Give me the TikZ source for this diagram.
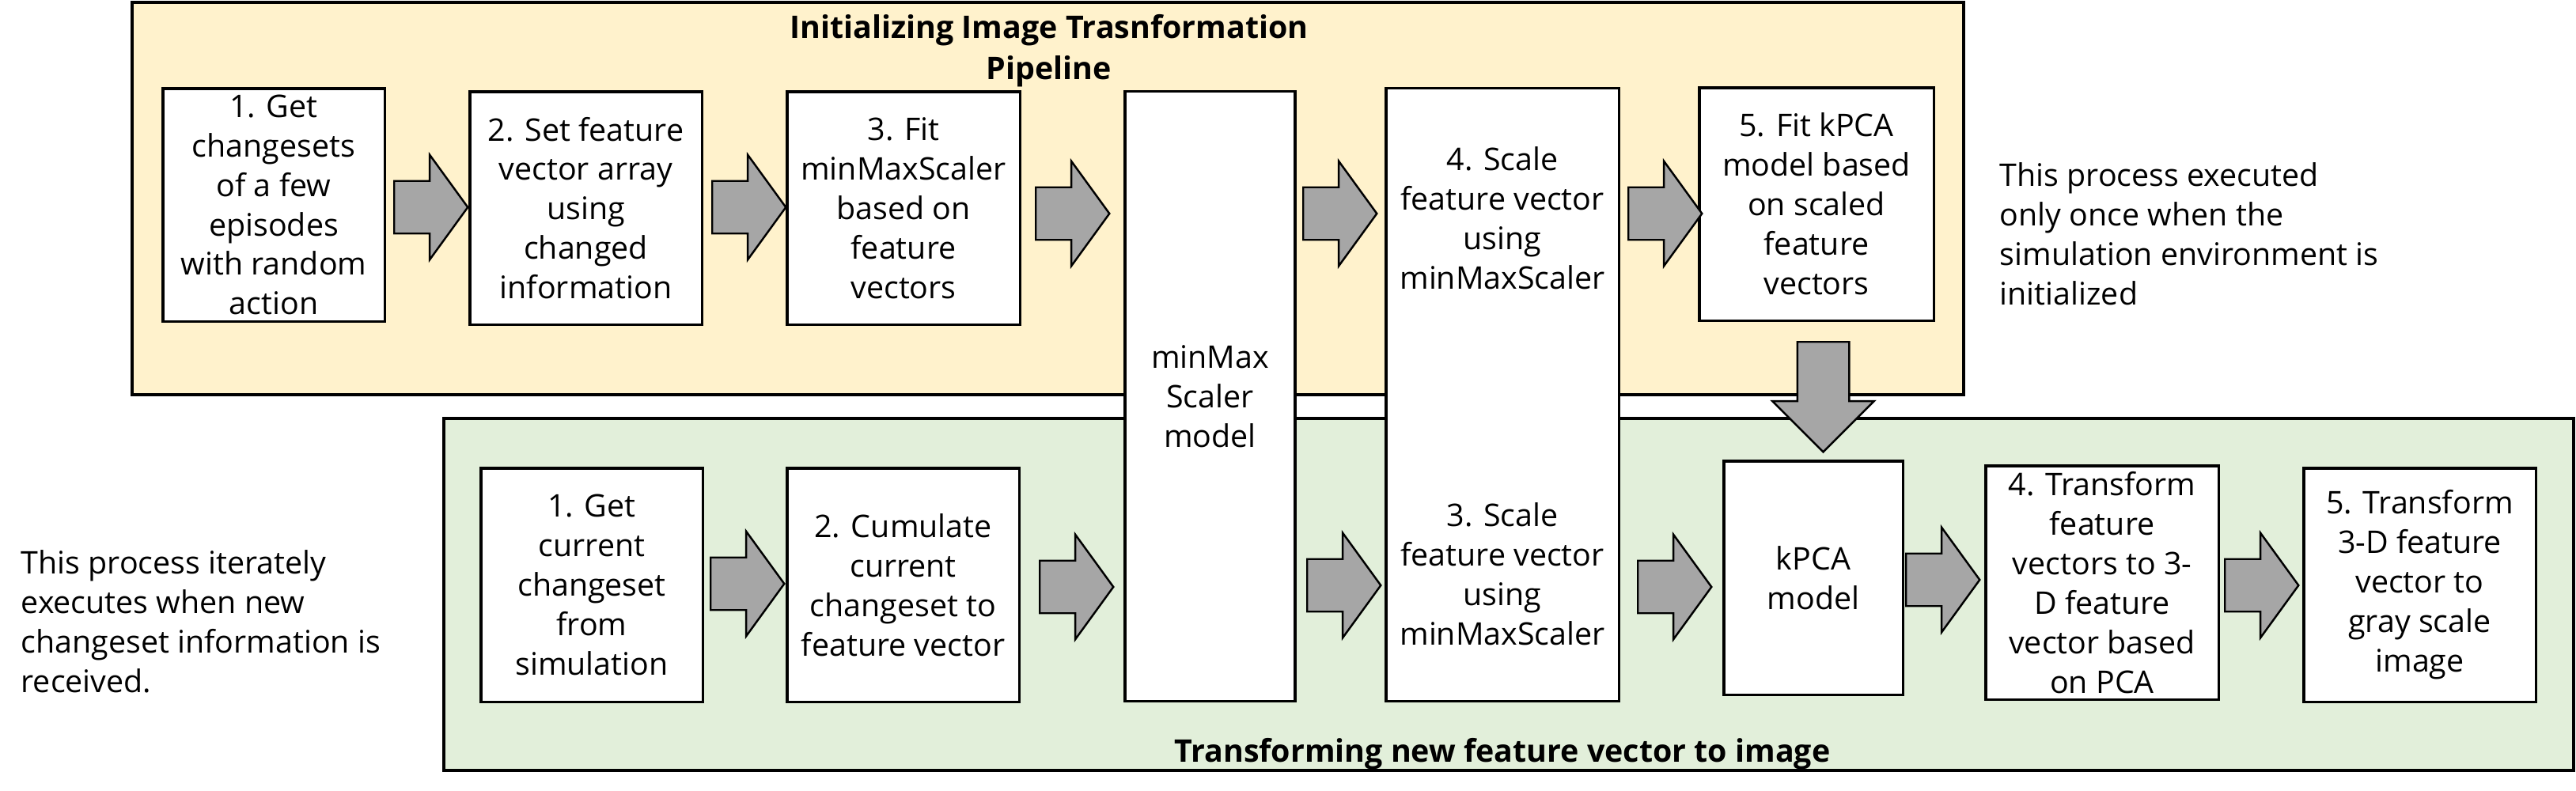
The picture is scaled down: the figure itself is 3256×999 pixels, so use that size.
\documentclass[tikz,border=0pt]{standalone}
\usepackage{fontspec}
\setmainfont{Open Sans}
\usetikzlibrary{shapes,arrows,positioning}

\definecolor{InitBg}{HTML}{FFF2CC}
\definecolor{TransBg}{HTML}{E2EFDA}
\definecolor{FlowGray}{HTML}{A6A6A6}

\begin{document}
\begin{tikzpicture}[x=0.01cm, y=-0.01cm]
		\tikzstyle{Group}	= [draw, line width=1.1pt, inner sep=0pt]
		\tikzstyle{Step}	= [draw, fill=white, line width=0.9pt, inner sep=0pt, align=center, font=\fontsize{11.2}{14.2}\selectfont]
		\tikzstyle{Txt}		= [inner sep=0pt, align=center, font=\fontsize{11.2}{14.2}\selectfont]
		\tikzstyle{Note}	= [inner sep=0pt, align=left, font=\fontsize{11.2}{14.2}\selectfont]
		\tikzstyle{Title}	= [inner sep=0pt, align=center, font=\bfseries\fontsize{11.2}{14.6}\selectfont]
		\tikzstyle{Flow}	= [single arrow, draw, fill=FlowGray, line width=0.7pt, inner sep=0pt, inner ysep=0.32cm, minimum width=0pt, minimum height=0.93cm, single arrow head extend=0.33cm, single arrow tip angle=108, anchor=tail]
		\tikzstyle{FlowDown}	= [single arrow, draw, fill=FlowGray, line width=0.7pt, inner sep=0pt, inner xsep=0.315cm, minimum width=0pt, minimum height=1.39cm, single arrow head extend=0.315cm, single arrow tip angle=90, shape border rotate=270, anchor=tail]

		\useasboundingbox (0,0) rectangle (3256,999);

		% the two stages
		\node (init) at (1324.5,251) [Group, fill=InitBg, minimum width=23.13cm, minimum height=4.96cm] {};
		\node (trans) at (1907,751.5) [Group, fill=TransBg, minimum width=26.90cm, minimum height=4.45cm] {};
		\node (tinit) at (1326,64) [Title] {Initializing Image Trasnformation\\Pipeline};
		\node (ttrans) at (1899,963) [Title, anchor=base] {Transforming new feature vector to image};

		% initializing steps
		\node (b1) at (346,259) [Step, minimum width=2.80cm, minimum height=2.94cm] {1. Get\\changesets\\of a few\\episodes\\with random\\action};
		\node (b2) at (740.5,263) [Step, minimum width=2.93cm, minimum height=2.94cm] {2. Set feature\\vector array\\using\\changed\\information};
		\node (b3) at (1142,263) [Step, minimum width=2.94cm, minimum height=2.94cm] {3. Fit\\minMaxScaler\\based on\\feature\\vectors};
		\node (mm) at (1529.5,501) [Step, minimum width=2.15cm, minimum height=7.70cm] {minMax\\Scaler\\model};
		\node (sc) at (1899,499) [Step, minimum width=2.94cm, minimum height=7.74cm] {};
		\node (sctop) at (1899,276) [Txt] {4. Scale\\feature vector\\using\\minMaxScaler};
		\node (scbot) at (1899,726) [Txt] {3. Scale\\feature vector\\using\\minMaxScaler};
		\node (b5) at (2296,258) [Step, minimum width=2.96cm, minimum height=2.94cm] {5. Fit kPCA\\model based\\on scaled\\feature\\vectors};

		% transforming steps
		\node (c1) at (748,739.5) [Step, minimum width=2.80cm, minimum height=2.95cm] {1. Get\\current\\changeset\\from\\simulation};
		\node (c2) at (1141.5,739.5) [Step, minimum width=2.93cm, minimum height=2.95cm] {2. Cumulate\\current\\changeset to\\feature vector};
		\node (kpca) at (2292,730.5) [Step, minimum width=2.26cm, minimum height=2.95cm] {kPCA\\model};
		\node (c4) at (2657,736.5) [Step, minimum width=2.94cm, minimum height=2.95cm] {4. Transform\\feature\\vectors to 3-\\D feature\\vector based\\on PCA};
		\node (c5) at (3058.5,739.5) [Step, minimum width=2.93cm, minimum height=2.95cm] {5. Transform\\3-D feature\\vector to\\gray scale\\image};

		% notes
		\node (ninit) at (2527,296) [Note, anchor=west] {This process executed\\only once when the\\simulation environment is\\initialized};
		\node (ntrans) at (26,786) [Note, anchor=west] {This process iterately\\executes when new\\changeset information is\\received.};

		% block arrows, placed by their tails
		\node (a1) at (497,262) [Flow] {};
		\node (a2) at (899,262) [Flow] {};
		\node (a3) at (1308,270) [Flow] {};
		\node (a4) at (1646,270) [Flow] {};
		\node (a5) at (2057,270) [Flow] {};
		\node (ad) at (2304.5,431) [FlowDown] {};
		\node (d1) at (897,738) [Flow] {};
		\node (d2) at (1313,742) [Flow] {};
		\node (d3) at (1651,740) [Flow] {};
		\node (d4) at (2069,742) [Flow] {};
		\node (d5) at (2408,733) [Flow] {};
		\node (d6) at (2811,740) [Flow] {};
\end{tikzpicture}
\end{document}
